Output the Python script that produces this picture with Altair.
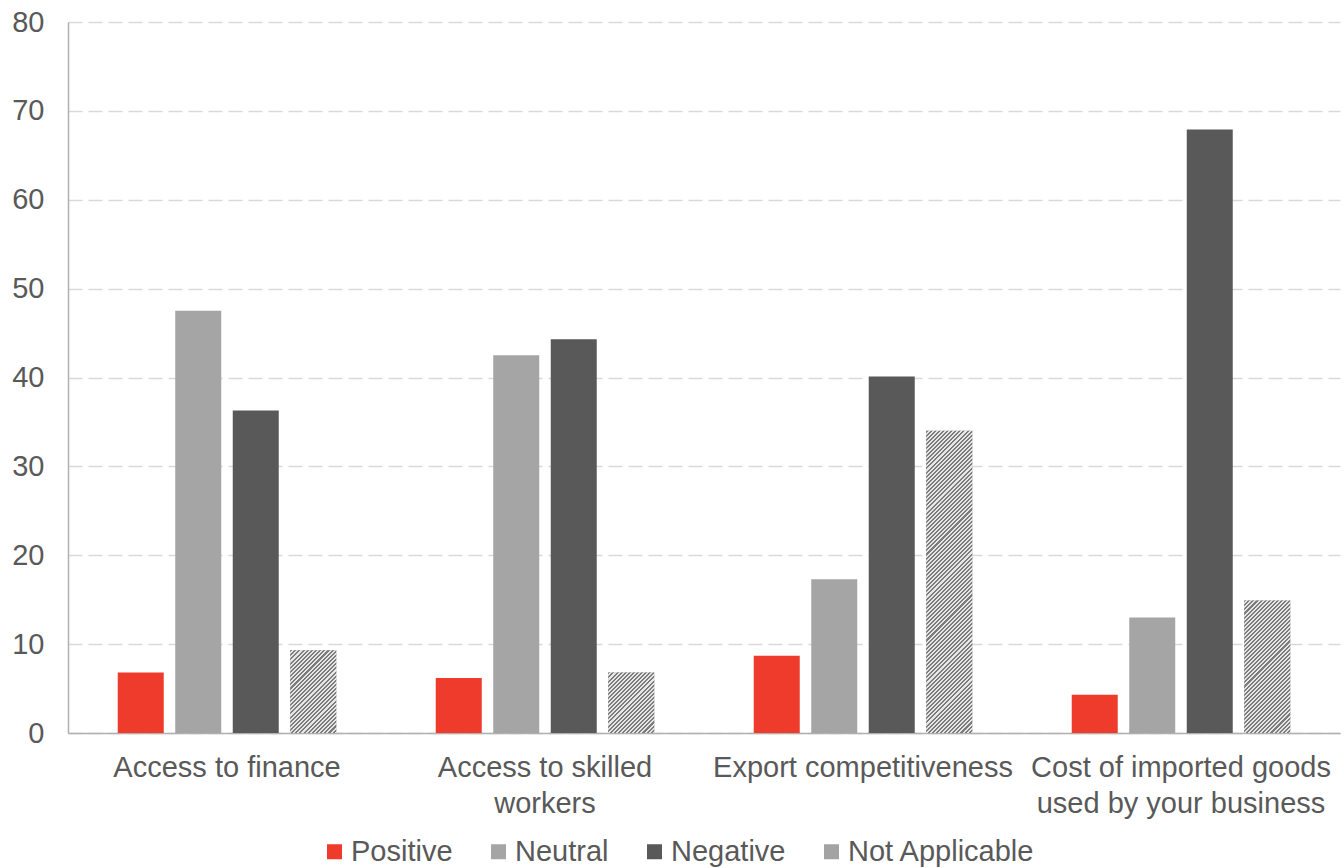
import altair as alt
import pandas as pd

categories = [
    "Access to finance",
    "Access to skilled workers",
    "Export competitiveness",
    "Cost of imported goods used by your business",
]
label_lines = [
    ["Access to finance"],
    ["Access to skilled", "workers"],
    ["Export competitiveness"],
    ["Cost of imported goods", "used by your business"],
]
series = ["Positive", "Neutral", "Negative", "Not Applicable"]
positive = [6.8, 6.2, 8.7, 4.3]
neutral = [47.5, 42.5, 17.3, 13.0]
negative = [36.3, 44.3, 40.1, 67.9]
not_applicable = [9.3, 6.8, 34.0, 14.9]
colors = ["#ee3b2b", "#a5a5a5", "#595959", "#a3a3a3"]

rows = []
for i, c in enumerate(categories):
    for s, vals in zip(series, [positive, neutral, negative, not_applicable]):
        rows.append({"category": c, "series": s, "value": vals[i]})
df = pd.DataFrame(rows)

W, H = 1272, 711
YMAX = 80
px = H / YMAX
P_IN, P_OUT = 0.2, 0.865
step = (W / len(categories)) / (len(series) - P_IN + 2 * P_OUT)
bw = step * (1 - P_IN)
TEXT = "#595959"
FONT = "Liberation Sans"


def hatch(w, h, period=2.9, dark="#7c7c7c", light="#e6e6e6"):
    s = (w + h) / (w * w + h * h)
    n = max(1, round((w + h) / 2 ** 0.5 / period))
    stops = []
    for k in range(n):
        a, m, b = k / n, (k + 0.5) / n, (k + 1) / n
        stops += [
            alt.GradientStop(offset=a, color=dark),
            alt.GradientStop(offset=m, color=dark),
            alt.GradientStop(offset=m, color=light),
            alt.GradientStop(offset=b, color=light),
        ]
    return alt.LinearGradient(gradient="linear", stops=stops, x1=0, y1=0, x2=w * s, y2=h * s)


def js_list(lines):
    return "[" + ", ".join("'" + l + "'" for l in lines) + "]"


expr = "datum.label"
for c, lines in zip(categories, label_lines):
    if len(lines) > 1:
        expr = f"datum.label == '{c}' ? {js_list(lines)} : ({expr})"

x_enc = alt.X(
    "category:N",
    sort=categories,
    scale=alt.Scale(domain=categories, paddingInner=0, paddingOuter=0),
    axis=alt.Axis(
        title=None, labelAngle=0, labelExpr=expr, labelFontSize=29, labelColor=TEXT,
        labelPadding=20, ticks=False, domainColor="#b0b0b0", domainWidth=1.5,
        labelLineHeight=36, labelLimit=0, labelFont=FONT, grid=False,
    ),
)
xo_enc = alt.XOffset(
    "series:N", sort=series,
    scale=alt.Scale(domain=series, paddingInner=P_IN, paddingOuter=P_OUT),
)
y_enc = alt.Y(
    "value:Q",
    scale=alt.Scale(domain=[0, YMAX], nice=False),
    axis=alt.Axis(
        title=None, values=list(range(0, 81, 10)), gridDash=[14, 6], gridColor="#d9d9d9",
        gridWidth=1.5, domainColor="#b0b0b0", domainWidth=1.5, ticks=False,
        labelFontSize=29, labelColor=TEXT, labelPadding=24, labelFont=FONT,
    ),
)

legend_kwargs = dict(
    orient="none", legendX=252, legendY=815, direction="horizontal", title=None,
    symbolType="square", symbolSize=225, labelFontSize=29, labelColor=TEXT,
    labelFont=FONT, columnPadding=31, labelOffset=2, symbolStrokeWidth=0, padding=0,
    labelLimit=0,
)

base = alt.Chart(df).mark_bar().encode(
    x=x_enc,
    xOffset=xo_enc,
    y=y_enc,
    color=alt.Color(
        "series:N", sort=series,
        scale=alt.Scale(domain=series, range=colors),
        legend=alt.Legend(**legend_kwargs),
    ),
)

layers = [base]
for c, v in zip(categories, not_applicable):
    layers.append(
        alt.Chart(df)
        .transform_filter((alt.datum.category == c) & (alt.datum.series == "Not Applicable"))
        .mark_bar(fill=hatch(bw, v * px))
        .encode(x=x_enc, xOffset=xo_enc, y=y_enc)
    )

chart = (
    alt.layer(*layers)
    .properties(
        width=W, height=H,
        padding={"left": 68, "top": 22, "right": 4, "bottom": 135},
        autosize=alt.AutoSizeParams(type="none"),
    )
    .configure_view(strokeWidth=0, stroke="transparent", strokeOpacity=0)
    .configure(
        font=FONT,
        background="white",
        style={"cell": {"stroke": "transparent", "strokeWidth": 0}},
    )
)

chart.save("out.html", embed_options={"renderer": "svg", "actions": False})
